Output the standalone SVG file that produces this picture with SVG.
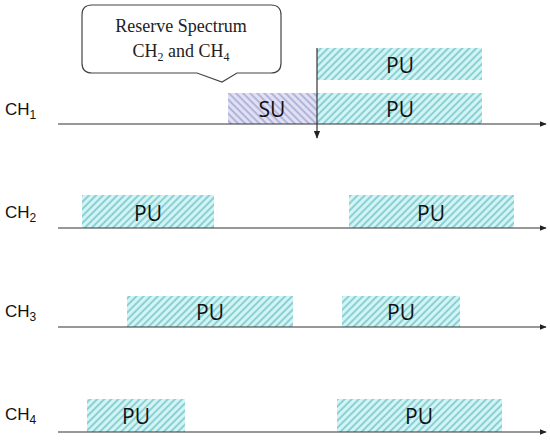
<svg xmlns="http://www.w3.org/2000/svg" width="550" height="442" viewBox="0 0 550 442">
<defs>
<pattern id="puHatch" patternUnits="userSpaceOnUse" width="5" height="5" patternTransform="rotate(45)">
<rect width="5" height="5" fill="#d2f4f4"/>
<line x1="1" y1="0" x2="1" y2="5" stroke="#5cb8bf" stroke-width="1.2"/>
</pattern>
<pattern id="suHatch" patternUnits="userSpaceOnUse" width="5" height="5" patternTransform="rotate(-45)">
<rect width="5" height="5" fill="#e0e0f4"/>
<line x1="1" y1="0" x2="1" y2="5" stroke="#9597c9" stroke-width="1.2"/>
</pattern>
<marker id="arr" viewBox="0 0 10 10" refX="9" refY="5" markerWidth="7" markerHeight="7" orient="auto" markerUnits="userSpaceOnUse">
<path d="M0,1 L10,5 L0,9 Z" fill="#222"/>
</marker>
<marker id="arrDown" viewBox="0 0 10 10" refX="9" refY="5" markerWidth="8" markerHeight="8" orient="auto" markerUnits="userSpaceOnUse">
<path d="M0,1 L10,5 L0,9 Z" fill="#222"/>
</marker>
</defs>
<style>
.axis{stroke:#333;stroke-width:1.2;fill:none}
.pu{fill:url(#puHatch)}
.su{fill:url(#suHatch)}
.lbl{font-family:"Liberation Sans",Arial,sans-serif;font-size:17px;fill:#111}
.sub{font-size:12px}
.box{font-family:"Open Sans","Liberation Sans",sans-serif;font-size:21px;fill:#111;text-anchor:middle}
.call{font-family:"Liberation Serif","Times New Roman",serif;font-size:18px;fill:#222;text-anchor:middle}
</style>
<rect width="550" height="442" fill="#fff"/>

<g id="callout">
<path d="M92,5 H271 Q281,5 281,15 V63 Q281,73 271,73 H237 L222,82 L197,73 H92 Q82,73 82,63 V15 Q82,5 92,5 Z" fill="#fff" stroke="#444" stroke-width="1.2"/>
<text class="call" x="181" y="32">Reserve Spectrum</text>
<text class="call" x="181" y="57">CH<tspan class="sub" dy="4">2</tspan><tspan dy="-4"> and CH</tspan><tspan class="sub" dy="4">4</tspan></text>
</g>

<g id="ch1">
<text class="lbl" x="5" y="115">CH<tspan class="sub" dy="4">1</tspan></text>
<rect class="pu" x="317" y="48" width="165" height="32"/>
<text class="box" x="400" y="73">PU</text>
<rect class="su" x="228" y="93" width="89" height="31"/>
<text class="box" x="272" y="117">SU</text>
<rect class="pu" x="317" y="93" width="165" height="31"/>
<text class="box" x="400" y="117">PU</text>
</g>

<g id="ch2">
<text class="lbl" x="5" y="218">CH<tspan class="sub" dy="4">2</tspan></text>
<rect class="pu" x="82" y="195" width="132" height="33"/>
<text class="box" x="148" y="221">PU</text>
<rect class="pu" x="349" y="195" width="165" height="33"/>
<text class="box" x="431" y="221">PU</text>
</g>

<g id="ch3">
<text class="lbl" x="5" y="317">CH<tspan class="sub" dy="4">3</tspan></text>
<rect class="pu" x="127" y="296" width="166" height="31"/>
<text class="box" x="210" y="320">PU</text>
<rect class="pu" x="342" y="296" width="118" height="31"/>
<text class="box" x="401" y="320">PU</text>
</g>

<g id="ch4">
<text class="lbl" x="5" y="420">CH<tspan class="sub" dy="4">4</tspan></text>
<rect class="pu" x="87" y="399" width="98" height="33"/>
<text class="box" x="136" y="424">PU</text>
<rect class="pu" x="337" y="399" width="165" height="33"/>
<text class="box" x="419" y="424">PU</text>
</g>

<g id="connectors">
<line class="axis" x1="58" y1="124" x2="546" y2="124" marker-end="url(#arr)"/>
<line class="axis" x1="58" y1="228" x2="546" y2="228" marker-end="url(#arr)"/>
<line class="axis" x1="58" y1="327" x2="546" y2="327" marker-end="url(#arr)"/>
<line class="axis" x1="58" y1="432" x2="546" y2="432" marker-end="url(#arr)"/>
<line class="axis" x1="317" y1="48" x2="317" y2="138" marker-end="url(#arrDown)"/>
</g>
</svg>
